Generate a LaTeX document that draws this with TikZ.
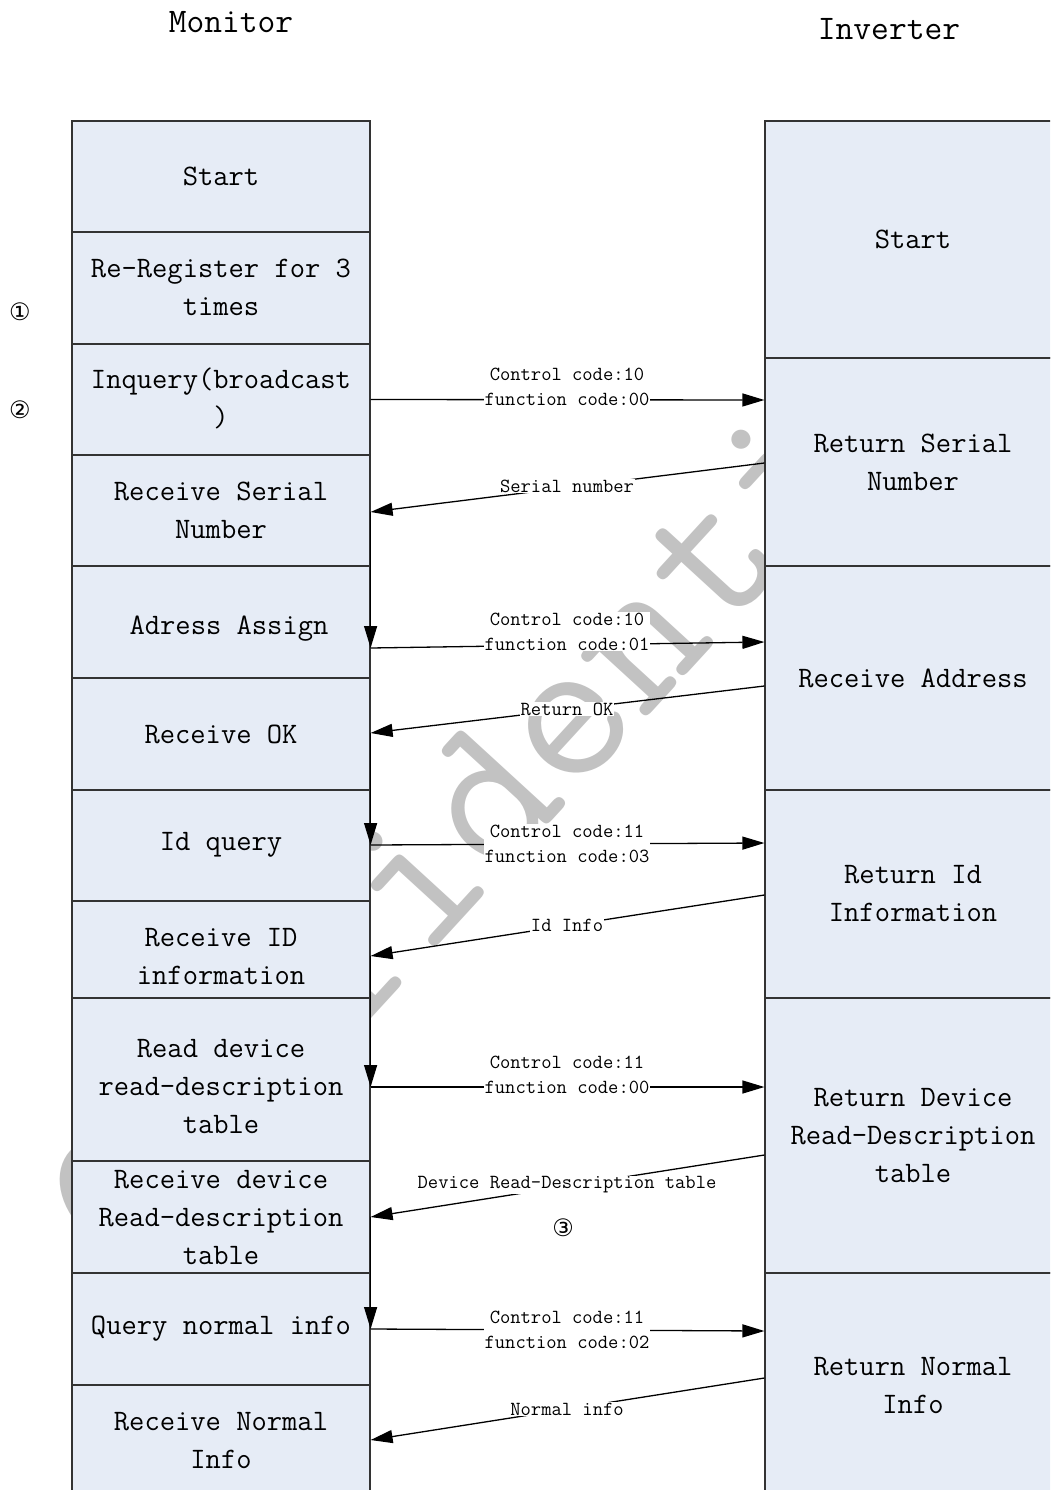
\documentclass[tikz,border=0pt]{standalone}
\usepackage{fontspec}
\newfontfamily\symfont{DejaVu Sans}
\usetikzlibrary{arrows.meta}
\definecolor{boxfill}{RGB}{230,236,246}
\definecolor{wmgray}{RGB}{194,194,194}
\tikzset{
  mbox/.style={draw=black!80, line width=1.2pt, fill=boxfill, minimum width=298pt, inner sep=0pt},
  ibox/.style={draw=black!80, line width=1.2pt, fill=boxfill, minimum width=300pt, inner sep=0pt},
  btext/.style={font=\ttfamily\fontsize{29.7}{38}\selectfont, align=center, inner sep=0pt},
  ttext/.style={font=\ttfamily\fontsize{34.5}{40}\selectfont, inner sep=0pt},
  ltext/.style={font=\ttfamily\fontsize{20}{25}\selectfont, align=center, fill=white, inner sep=1pt},
  circnum/.style={font=\symfont\fontsize{24}{24}\selectfont, inner sep=0pt},
  msg/.style={line width=1.3pt, -{Triangle[length=22pt,width=13pt]}},
}
\begin{document}
\begin{tikzpicture}[x=1pt, y=-1pt]
\useasboundingbox (0,0) rectangle (1050,1490);
\clip (0,0) rectangle (1050,1490);

% watermark behind everything
\node[rotate=47.5, anchor=base west, text=wmgray, inner sep=0pt,
      font=\ttfamily\fontsize{212}{212}\selectfont] (wm) at (128,1284) {Confidential};

% column titles
\node[ttext] (tmon) at (231,22) {Monitor};
\node[ttext] (tinv) at (889,29) {Inverter};

% Monitor column
\node[mbox, minimum height=111pt] (m1)  at (221,176.5) {};
\node[mbox, minimum height=112pt] (m2)  at (221,288)   {};
\node[mbox, minimum height=111pt] (m3)  at (221,399.5) {};
\node[mbox, minimum height=111pt] (m4)  at (221,510.5) {};
\node[mbox, minimum height=112pt] (m5)  at (221,622)   {};
\node[mbox, minimum height=112pt] (m6)  at (221,734)   {};
\node[mbox, minimum height=111pt] (m7)  at (221,845.5) {};
\node[mbox, minimum height=97pt]  (m8)  at (221,949.5) {};
\node[mbox, minimum height=163pt] (m9)  at (221,1079.5){};
\node[mbox, minimum height=112pt] (m10) at (221,1217)  {};
\node[mbox, minimum height=112pt] (m11) at (221,1329)  {};
\node[mbox, minimum height=112pt] (m12) at (221,1441)  {};

\node[btext] (tm1)  at (221,176)  {Start};
\node[btext] (tm2)  at (221,287)  {Re-Register for 3\\times};
\node[btext] (tm3)  at (221,398)  {Inquery(broadcast\\)};
\node[btext] (tm4)  at (221,510)  {Receive Serial\\Number};
\node[btext] (tm5)  at (229,629)  {Adress Assign};
\node[btext] (tm6)  at (221,734)  {Receive OK};
\node[btext] (tm7)  at (221,845)  {Id query};
\node[btext] (tm8)  at (221,957)  {Receive ID\\information};
\node[btext] (tm9)  at (221,1087) {Read device\\read-description\\table};
\node[btext] (tm10) at (221,1217) {Receive device\\Read-description\\table};
\node[btext] (tm11) at (221,1329) {Query normal info};
\node[btext] (tm12) at (221,1440) {Receive Normal\\Info};

% Inverter column
\node[ibox, minimum height=237pt] (i1) at (915,239.5)  {};
\node[ibox, minimum height=208pt] (i2) at (915,462)    {};
\node[ibox, minimum height=224pt] (i3) at (915,678)    {};
\node[ibox, minimum height=208pt] (i4) at (915,894)    {};
\node[ibox, minimum height=275pt] (i5) at (915,1135.5) {};
\node[ibox, minimum height=224pt] (i6) at (915,1385)   {};

\node[btext] (ti1) at (913,239)  {Start};
\node[btext] (ti2) at (913,462)  {Return Serial\\Number};
\node[btext] (ti3) at (913,678)  {Receive Address};
\node[btext] (ti4) at (913,894)  {Return Id\\Information};
\node[btext] (ti5) at (913,1136) {Return Device\\Read-Description\\table};
\node[btext] (ti6) at (913,1385) {Return Normal\\Info};

% step markers
\node[circnum] (c1) at (20,312)  {①};
\node[circnum] (c2) at (20,410)  {②};
\node[circnum] (c3) at (563,1228) {③};

% requests (monitor -> inverter)
\draw[msg] (m3.east) -- ([yshift=62pt]i2.west);
\draw[msg] ([yshift=-26pt]m5.east) -- ([yshift=36pt]i3.west);
\draw[msg] ([yshift=0.5pt]m7.east) -- ([yshift=51pt]i4.west);
\draw[msg] ([yshift=-7.5pt]m9.east) -- ([yshift=48.5pt]i5.west);
\draw[msg] (m11.east) -- ([yshift=54pt]i6.west);

% replies (inverter -> monitor)
\draw[msg] ([yshift=-1pt]i2.west) -- ([yshift=-1.5pt]m4.east);
\draw[msg] ([yshift=-8pt]i3.west) -- ([yshift=1pt]m6.east);
\draw[msg] ([yshift=-1pt]i4.west) -- ([yshift=-6.5pt]m8.east);
\draw[msg] ([yshift=-19.5pt]i5.west) -- (m10.east);
\draw[msg] ([yshift=7pt]i6.west) -- ([yshift=1pt]m12.east);

% monitor hand-over to the next step
\draw[msg] ([yshift=-1.5pt]m4.east) -- ([yshift=-26pt]m5.east);
\draw[msg] ([yshift=1pt]m6.east) -- ([yshift=0.5pt]m7.east);
\draw[msg] ([yshift=-6.5pt]m8.east) -- ([yshift=-7.5pt]m9.east);
\draw[msg] (m10.east) -- (m11.east);

% message labels
\node[ltext] (l1) at (567,386.5)  {Control code:10\\function code:00};
\node[ltext] (l2) at (567,486)    {Serial number};
\node[ltext] (l3) at (567,631.5)  {Control code:10\\function code:01};
\node[ltext] (l4) at (567,709)    {Return OK};
\node[ltext] (l5) at (567,843.5)  {Control code:11\\function code:03};
\node[ltext] (l6) at (567,925)    {Id Info};
\node[ltext] (l7) at (567,1074.5) {Control code:11\\function code:00};
\node[ltext] (l8) at (567,1185)   {Device Read-Description table};
\node[ltext] (l9) at (567,1329.5) {Control code:11\\function code:02};
\node[ltext] (l10) at (567,1409)  {Normal info};
\end{tikzpicture}
\end{document}
